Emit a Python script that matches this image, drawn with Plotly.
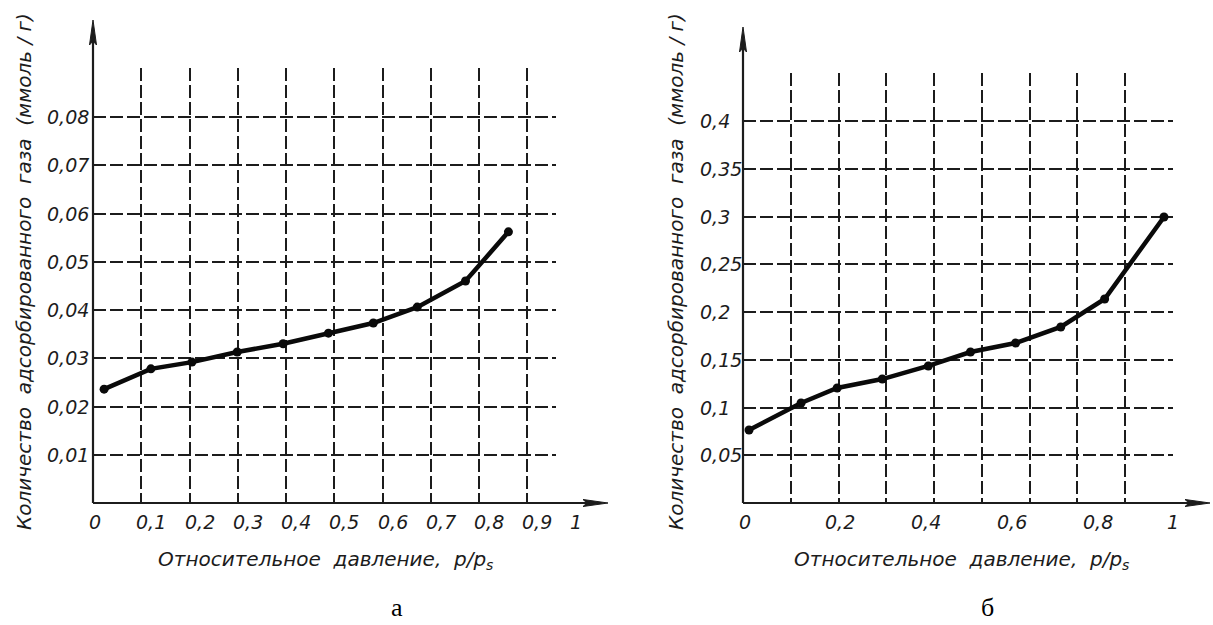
import plotly.graph_objects as go

# ---------------- data ----------------
# chart "а"
a_x = [0.023, 0.120, 0.205, 0.299, 0.394, 0.488, 0.581, 0.672, 0.772, 0.861]
a_y = [0.0236, 0.0278, 0.0292, 0.0313, 0.0330, 0.0352, 0.0373, 0.0406, 0.0460, 0.0562]
a_xticks = [0, 0.1, 0.2, 0.3, 0.4, 0.5, 0.6, 0.7, 0.8, 0.9, 1]
a_xtext = ["0", "0,1", "0,2", "0,3", "0,4", "0,5", "0,6", "0,7", "0,8", "0,9", "1"]
a_yticks = [0.01, 0.02, 0.03, 0.04, 0.05, 0.06, 0.07, 0.08]
a_ytext = ["0,01", "0,02", "0,03", "0,04", "0,05", "0,06", "0,07", "0,08"]
a_xgrid = [0.1, 0.2, 0.3, 0.4, 0.5, 0.6, 0.7, 0.8, 0.9]

# chart "б"
b_x = [0.014, 0.135, 0.219, 0.324, 0.431, 0.529, 0.634, 0.739, 0.841, 0.979]
b_y = [0.0764, 0.1047, 0.1204, 0.1298, 0.1435, 0.1581, 0.1675, 0.1843, 0.2136, 0.2995]
b_xticks = [0, 0.2, 0.4, 0.6, 0.8, 1]
b_xtext = ["0", "0,2", "0,4", "0,6", "0,8", "1"]
b_yticks = [0.05, 0.1, 0.15, 0.2, 0.25, 0.3, 0.35, 0.4]
b_ytext = ["0,05", "0,1", "0,15", "0,2", "0,25", "0,3", "0,35", "0,4"]
b_xgrid = [k / 9 for k in range(1, 9)]

y_title = "Количество\u00a0\u00a0адсорбированного\u00a0\u00a0газа\u00a0\u00a0(ммоль\u00a0/\u00a0г)"
x_title = "Относительное\u00a0\u00a0давление,\u00a0\u00a0p/p<sub>s</sub>"
panel_labels = ["а", "б"]

# ---------------- layout helpers ----------------
W, H = 1213, 625


def px(x):
    return x / W


def py(y):
    return 1 - y / H


INK = "#1c1c1c"
TICKFONT = dict(family="DejaVu Sans, Liberation Sans, sans-serif", size=19, color=INK, style="italic")
TITLEFONT = dict(family="DejaVu Sans, Liberation Sans, sans-serif", size=20, color=INK, style="italic")
GRID = dict(showgrid=True, gridcolor=INK, gridwidth=1.6, griddash="13px,4px",
            zeroline=False, showticklabels=False, ticks="", showline=False)

fig = go.Figure()

fig.add_trace(go.Scatter(x=a_x, y=a_y, mode="lines+markers", xaxis="x", yaxis="y",
                         line=dict(color="#0a0a0a", width=4.5),
                         marker=dict(color="#0a0a0a", size=9), cliponaxis=False,
                         showlegend=False))
fig.add_trace(go.Scatter(x=b_x, y=b_y, mode="lines+markers", xaxis="x2", yaxis="y2",
                         line=dict(color="#0a0a0a", width=4.5),
                         marker=dict(color="#0a0a0a", size=9), cliponaxis=False,
                         showlegend=False))

# panel geometry (pixels): axis origin, grid extent, arrow tips
panels = [
    dict(x0=93, y0=503, xg=556, yg=68, xtip=608, ytip=20, xr=(556 - 93) / 482.5,
         yr=(503 - 68) / 4825.0, xax="x", yax="y", xgrid=a_xgrid, ygrid=a_yticks,
         xticks=a_xticks, xtext=a_xtext, yticks=a_yticks, ytext=a_ytext,
         ylab_x=45, ytitle_x=24, xtitle_c=325, plab_x=397, xshift=10),
    dict(x0=743, y0=503, xg=1173, yg=73, xtip=1210, ytip=27, xr=(1173 - 743) / 430.0,
         yr=(503 - 73) / 955.0, xax="x2", yax="y2", xgrid=b_xgrid, ygrid=b_yticks,
         xticks=b_xticks, xtext=b_xtext, yticks=b_yticks, ytext=b_ytext,
         ylab_x=698, ytitle_x=676, xtitle_c=961, plab_x=987, xshift=11),
]

layout_axes = {}
shapes = []
annotations = []
for i, p in enumerate(panels):
    xk = "xaxis" if p["xax"] == "x" else "xaxis2"
    yk = "yaxis" if p["yax"] == "y" else "yaxis2"
    layout_axes[xk] = dict(GRID, domain=[px(p["x0"]), px(p["xg"])], range=[0, p["xr"]],
                           tickmode="array", tickvals=p["xgrid"], anchor=p["yax"])
    layout_axes[yk] = dict(GRID, domain=[py(p["y0"]), py(p["yg"])], range=[0, p["yr"]],
                           tickmode="array", tickvals=p["ygrid"], anchor=p["xax"])

    # axis lines
    shapes.append(dict(type="line", xref="paper", yref="paper",
                       x0=px(p["x0"]), y0=py(p["y0"]), x1=px(p["xtip"] - 12), y1=py(p["y0"]),
                       line=dict(color=INK, width=2.2)))
    shapes.append(dict(type="line", xref="paper", yref="paper",
                       x0=px(p["x0"]), y0=py(p["y0"]), x1=px(p["x0"]), y1=py(p["ytip"] + 12),
                       line=dict(color=INK, width=2.2)))
    # arrowheads
    L, hw = 25, 3.5
    t = p["xtip"]
    yy = p["y0"]
    shapes.append(dict(type="path", xref="paper", yref="paper",
                       path=f"M {px(t)},{py(yy)} L {px(t - L)},{py(yy - hw)} L {px(t - L + 4)},{py(yy)} "
                            f"L {px(t - L)},{py(yy + hw)} Z",
                       fillcolor=INK, line=dict(color=INK, width=1)))
    t = p["ytip"]
    xx = p["x0"]
    shapes.append(dict(type="path", xref="paper", yref="paper",
                       path=f"M {px(xx)},{py(t)} L {px(xx - hw)},{py(t + L)} L {px(xx)},{py(t + L - 4)} "
                            f"L {px(xx + hw)},{py(t + L)} Z",
                       fillcolor=INK, line=dict(color=INK, width=1)))

    # x tick labels (domain-referenced so labels beyond the grid extent stay visible)
    for v, s in zip(p["xticks"], p["xtext"]):
        sh = 2 if v == 0 else (0 if v == 1 else p["xshift"])
        annotations.append(dict(x=v / p["xr"], y=0, xref=p["xax"] + " domain",
                                yref=p["yax"] + " domain", text=s,
                                showarrow=False, xanchor="center", yanchor="middle",
                                xshift=sh, yshift=-19, font=TICKFONT))
    # y tick labels
    for v, s in zip(p["yticks"], p["ytext"]):
        annotations.append(dict(x=px(p["ylab_x"]), y=v, xref="paper", yref=p["yax"], text=s,
                                showarrow=False, xanchor="left", yanchor="middle", font=TICKFONT))
    # axis titles
    annotations.append(dict(x=px(p["ytitle_x"]), y=py(272), xref="paper", yref="paper",
                            text=y_title, textangle=-90, showarrow=False,
                            xanchor="center", yanchor="middle", font=TITLEFONT))
    annotations.append(dict(x=px(p["xtitle_c"]), y=py(560), xref="paper", yref="paper",
                            text=x_title, showarrow=False,
                            xanchor="center", yanchor="middle", font=TITLEFONT))
    # panel label
    annotations.append(dict(x=px(p["plab_x"]), y=py(607), xref="paper", yref="paper",
                            text=panel_labels[i], showarrow=False,
                            xanchor="center", yanchor="middle",
                            font=dict(family="Liberation Serif, Times New Roman, serif",
                                      size=26, color="#000")))

fig.update_layout(
    width=W, height=H,
    margin=dict(l=0, r=0, t=0, b=0),
    paper_bgcolor="white", plot_bgcolor="white",
    shapes=shapes, annotations=annotations,
    showlegend=False,
    **layout_axes,
)

fig.write_html("out.html",
               config={"displayModeBar": False},
               post_script="document.body.style.margin='0';document.body.style.padding='0';")
